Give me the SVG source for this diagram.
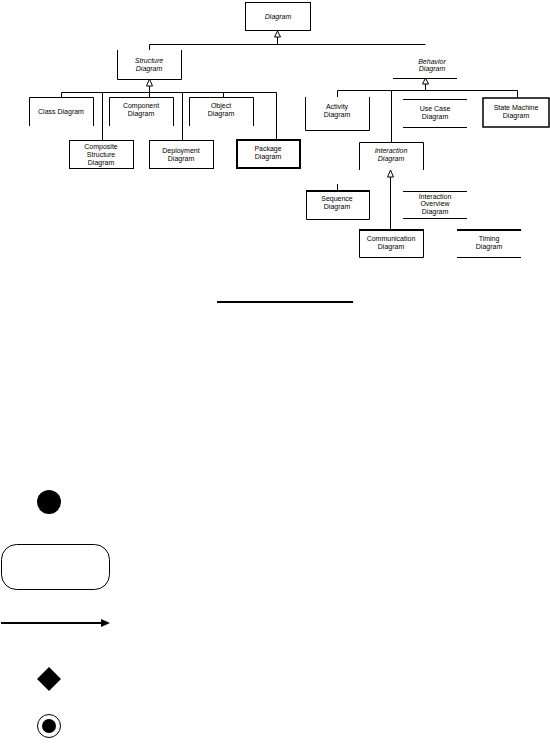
<svg xmlns="http://www.w3.org/2000/svg" width="550" height="747" viewBox="0 0 550 747">
<style>
text{font-family:"Liberation Sans",Arial,sans-serif;font-size:7px;fill:#000;text-anchor:middle}
.i{font-style:italic}
.l{stroke:#000;stroke-width:1;fill:none}
.t{stroke:#000;stroke-width:2;fill:none}
.tri{stroke:#000;stroke-width:1;fill:#fff}
</style>
<rect width="550" height="747" fill="#fff"/>
<g id="connectors">
<path class="l" d="M277.5 37V44.5M149.5 44.5H425.5M149.5 44.5V50"/>
<path class="l" d="M149.5 86V92.5M61.5 92.5H276.5M61.5 92.5V97M102.5 92.5V140M149.5 92.5V97M182.5 92.5V140M223.5 92.5V97M276.5 92.5V140"/>
<path class="l" d="M425.5 84V90.5M337.5 90.5H517.5V98M337.5 90.5V97M391.5 90.5V142"/>
<path class="l" d="M390.5 177V229M337.5 184V190"/>
<path class="tri" d="M277.5 31L274.5 37H280.5Z"/>
<path class="tri" d="M149.5 79L146.5 86H152.5Z"/>
<path class="tri" d="M425.5 78L422.5 84H428.5Z"/>
<path class="tri" d="M390.5 170L387.5 177H393.5Z"/>
</g>
<g id="diagram"><rect class="l" x="245.5" y="2.5" width="65" height="28"/><text class="i" x="278" y="19">Diagram</text></g>
<g id="structure"><path class="l" d="M117.5 50V79.5H181.5V50"/><text class="i" x="149" y="63">Structure</text><text class="i" x="149" y="71">Diagram</text></g>
<g id="behavior"><path class="l" d="M393 78.5H457"/><text class="i" x="432" y="64">Behavior</text><text class="i" x="432" y="71">Diagram</text></g>
<g id="class"><path class="l" d="M29.5 126V97.5H93.5V126"/><text x="61" y="114">Class Diagram</text></g>
<g id="component"><path class="l" d="M109.5 126V97.5H173.5V126"/><text x="141" y="108">Component</text><text x="141" y="116">Diagram</text></g>
<g id="object"><path class="l" d="M189.5 126V97.5H253.5V126"/><text x="221" y="108">Object</text><text x="221" y="116">Diagram</text></g>
<g id="composite"><rect class="l" x="69.5" y="140.5" width="64" height="28"/><text x="101" y="149">Composite</text><text x="101" y="157">Structure</text><text x="101" y="165">Diagram</text></g>
<g id="deployment"><rect class="l" x="149.5" y="140.5" width="64" height="28"/><text x="181" y="153">Deployment</text><text x="181" y="161">Diagram</text></g>
<g id="package"><rect class="t" x="237" y="140" width="63" height="28"/><text x="268" y="151">Package</text><text x="268" y="159">Diagram</text></g>
<g id="activity"><path class="l" d="M305.5 97V130.5H369.5V97"/><text x="337" y="109">Activity</text><text x="337" y="117">Diagram</text></g>
<g id="usecase"><path class="l" d="M403 99.5H467M403 127.5H467"/><text x="435" y="111">Use Case</text><text x="435" y="119">Diagram</text></g>
<g id="statemachine"><rect x="483" y="98" width="66" height="29" stroke="#000" stroke-width="1.5" fill="none"/><text x="516" y="110">State Machine</text><text x="516" y="118">Diagram</text></g>
<g id="interaction"><path class="l" d="M359.5 170V142.5H423.5V170"/><text class="i" x="391" y="153">Interaction</text><text class="i" x="391" y="161">Diagram</text></g>
<g id="sequence"><path class="l" d="M306.5 190V219.5H369.5V190"/><path class="t" d="M306 191H370"/><text x="337" y="201">Sequence</text><text x="337" y="209">Diagram</text></g>
<g id="overview"><path class="l" d="M403 191.5H467M403 218.5H467"/><text x="435" y="199">Interaction</text><text x="435" y="206">Overview</text><text x="435" y="214">Diagram</text></g>
<g id="communication"><path class="l" d="M359.5 229V257.5H423.5V229"/><path class="t" d="M359 230H424"/><text x="391" y="241">Communication</text><text x="391" y="249">Diagram</text></g>
<g id="timing"><path class="t" d="M457 230H521"/><path class="l" d="M457 257.5H521"/><text x="489" y="241">Timing</text><text x="489" y="249">Diagram</text></g>
<path d="M217 302H353" stroke="#000" stroke-width="2"/>
<g id="initial"><circle cx="49" cy="502" r="12" fill="#000"/></g>
<g id="action"><rect x="1.5" y="544.5" width="108" height="45" rx="15" ry="15" class="l"/></g>
<g id="flow"><path d="M1 623H103" stroke="#000" stroke-width="2"/><path d="M101 619L110 623L101 627Z" fill="#000"/></g>
<g id="decision"><path d="M49 667L61 679L49 691L37 679Z" fill="#000"/></g>
<g id="final"><circle cx="49" cy="726" r="11.5" class="l"/><circle cx="49" cy="726" r="7" fill="#000"/></g>
</svg>
